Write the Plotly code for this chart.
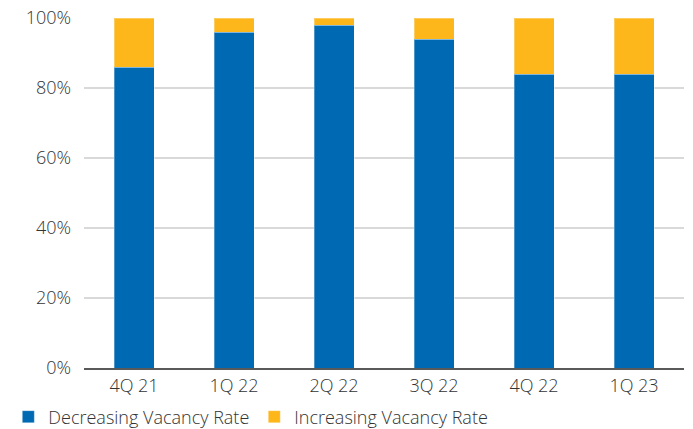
import plotly.graph_objects as go

categories = ["4Q 21", "1Q 22", "2Q 22", "3Q 22", "4Q 22", "1Q 23"]
decreasing = [86, 96, 98, 94, 84, 84]
increasing = [14, 4, 2, 6, 16, 16]
y_ticks = [0, 20, 40, 60, 80, 100]
y_tick_labels = ["0%", "20%", "40%", "60%", "80%", "100%"]

FONT = "Open Sans"
TXT = dict(family=FONT, size=18, color="#333333", weight=300)
fig = go.Figure()
fig.add_trace(go.Bar(x=categories, y=decreasing, name="Decreasing Vacancy Rate",
                     marker=dict(color="#0069B4", line=dict(color="rgba(255,255,255,0.3)", width=1)),
                     width=0.4))
fig.add_trace(go.Bar(x=categories, y=increasing, name="Increasing Vacancy Rate",
                     marker=dict(color="#FDB71A", line=dict(color="rgba(255,255,255,0.3)", width=1)),
                     width=0.4))

fig.update_layout(
    barmode="stack",
    width=693, height=429,
    margin=dict(l=84, r=9, t=18, b=61, autoexpand=False),
    paper_bgcolor="white", plot_bgcolor="white",
    font=TXT,
    showlegend=True,
    legend=dict(orientation="h", xref="container", yref="container",
                x=0.012, y=0.028, xanchor="left", yanchor="middle",
                font=TXT, itemwidth=30,
                traceorder="normal"),
    xaxis=dict(showline=True, linecolor="#595959", linewidth=2,
               ticks="", tickfont=TXT),
    yaxis=dict(range=[0, 100], tickvals=y_ticks, ticktext=y_tick_labels,
               showgrid=True, gridcolor="#D9D9D9", gridwidth=2,
               zeroline=False, showline=False, ticks="", ticklabelstandoff=12,
               tickfont=TXT),
)

fig.write_html("out.html")
